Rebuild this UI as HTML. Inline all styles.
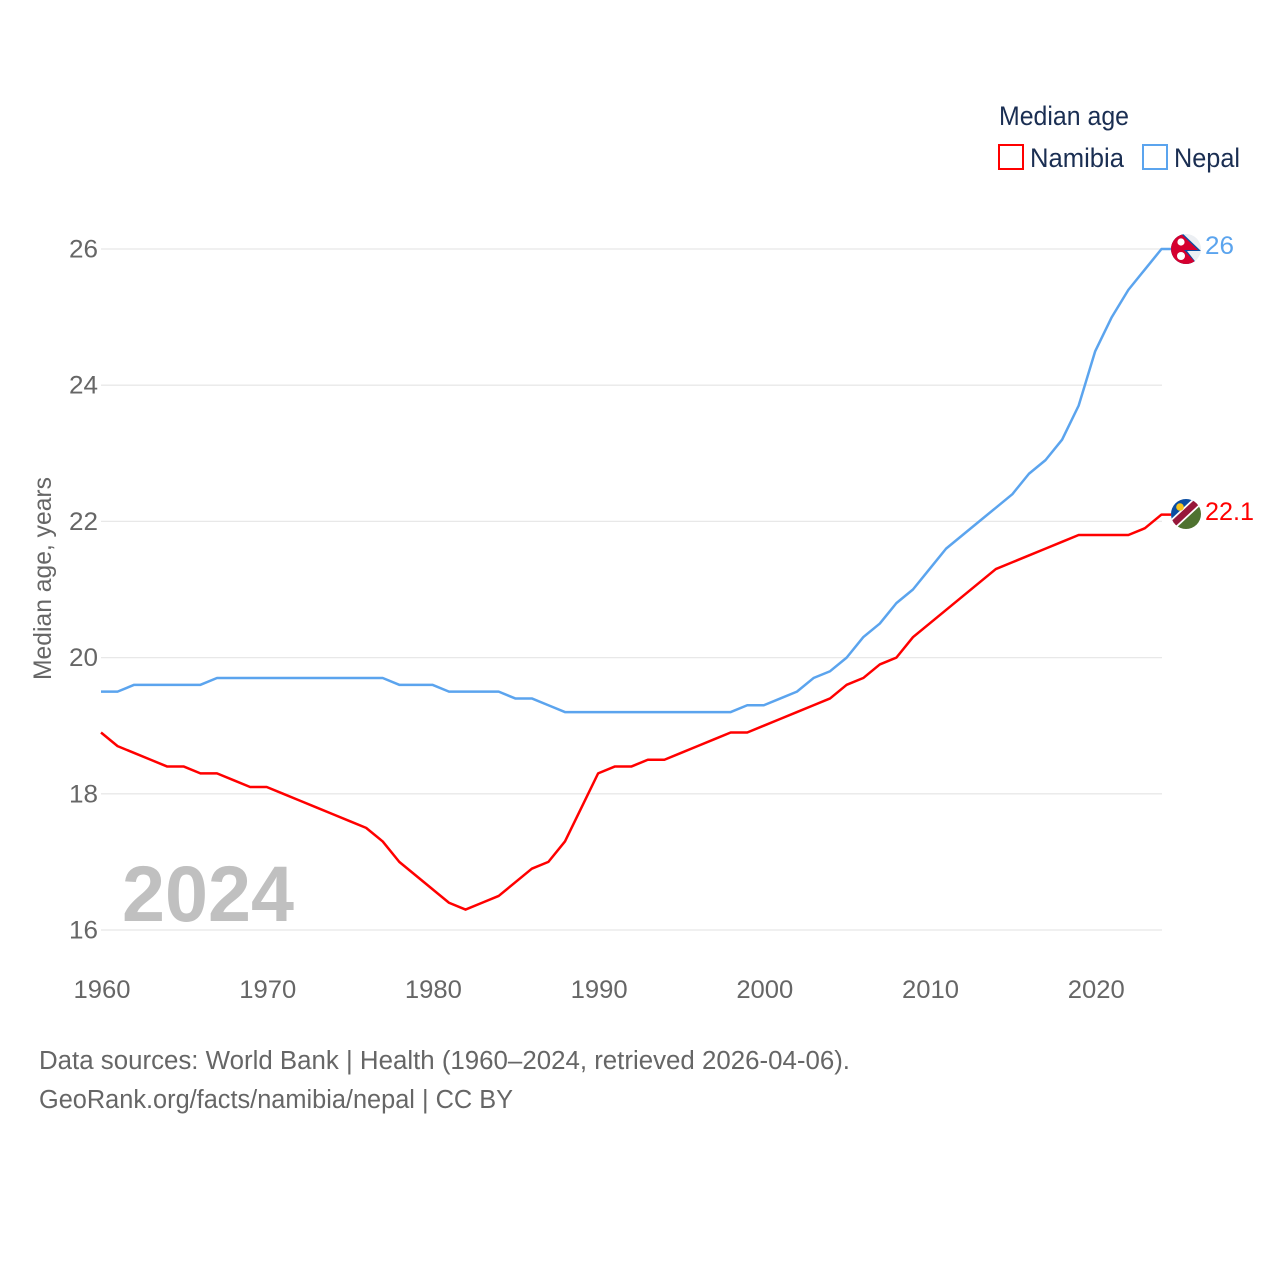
<!DOCTYPE html>
<html lang="en">
<head>
<meta charset="utf-8">
<title>Median age: Namibia and Nepal</title>
<style>
html,body{margin:0;padding:0;background:#fff;width:1280px;height:1280px;overflow:hidden}
svg{display:block}
text{font-family:"Liberation Sans",sans-serif}
</style>
</head>
<body>
<svg id="chart" xmlns="http://www.w3.org/2000/svg" width="1280" height="1280" viewBox="0 0 1280 1280">
  <rect width="1280" height="1280" fill="#fff"/>

  <g id="grid"></g>
  <g id="yticks"></g>
  <g id="xticks"></g>

  <text x="122" y="921" font-size="79" font-weight="700" fill="#c0c0c0" textLength="172" lengthAdjust="spacingAndGlyphs">2024</text>

  <text transform="translate(51,680) rotate(-90)" font-size="25" fill="#666" textLength="203" lengthAdjust="spacingAndGlyphs">Median age, years</text>

  <g id="series"></g>

  <defs>
    <clipPath id="clip-nepal"><circle cx="1186" cy="249" r="15"/></clipPath>
    <clipPath id="clip-namibia"><circle cx="1186" cy="514" r="15"/></clipPath>
  </defs>

  <g id="flag-nepal" clip-path="url(#clip-nepal)">
    <rect x="1171" y="234" width="30" height="30" fill="#eceff3"/>
    <polygon points="1171,230 1179,230 1201,251 1187,251 1198,265 1171,265" fill="#0b4ea2"/>
    <polygon points="1171,230 1177,230 1198,250 1184,250 1195,262 1195,265 1171,265" fill="#d5002f"/>
    <circle cx="1181" cy="242" r="3.6" fill="#fff"/>
    <circle cx="1181" cy="256" r="4" fill="#fff"/>
  </g>

  <g id="flag-namibia" clip-path="url(#clip-namibia)">
    <rect x="1171" y="499" width="30" height="30" fill="#fff"/>
    <polygon points="1171,499 1197,499 1171,526" fill="#0b4ea2"/>
    <polygon points="1201,503 1201,529 1175,529" fill="#4f7230"/>
    <line x1="1171" y1="526" x2="1200" y2="499" stroke="#fff" stroke-width="10"/>
    <line x1="1171" y1="526" x2="1200" y2="499" stroke="#97183a" stroke-width="6.5"/>
    <circle cx="1180" cy="507" r="3.8" fill="#f6c51c"/>
  </g>

  <text x="1205" y="254" font-size="25" fill="#5ba4ee" textLength="29" lengthAdjust="spacingAndGlyphs">26</text>
  <text x="1205" y="520" font-size="25" fill="#ff0000" textLength="49" lengthAdjust="spacingAndGlyphs">22.1</text>

  <g>
    <text x="999" y="125" font-size="26.5" fill="#1a2e52" textLength="130" lengthAdjust="spacingAndGlyphs">Median age</text>
    <rect x="999" y="145" width="24" height="24" fill="none" stroke="#ff0000" stroke-width="2"/>
    <text x="1030" y="167" font-size="26.5" fill="#1a2e52" textLength="94" lengthAdjust="spacingAndGlyphs">Namibia</text>
    <rect x="1143" y="145" width="24" height="24" fill="none" stroke="#5ba4ee" stroke-width="2"/>
    <text x="1174" y="167" font-size="26.5" fill="#1a2e52" textLength="66" lengthAdjust="spacingAndGlyphs">Nepal</text>
  </g>

  <text x="39" y="1069" font-size="25.5" fill="#666" textLength="811" lengthAdjust="spacingAndGlyphs">Data sources: World Bank | Health (1960–2024, retrieved 2026-04-06).</text>
  <text x="39" y="1108" font-size="25.5" fill="#666" textLength="474" lengthAdjust="spacingAndGlyphs">GeoRank.org/facts/namibia/nepal | CC BY</text>
</svg>

<script>
const years = [1960,1961,1962,1963,1964,1965,1966,1967,1968,1969,1970,1971,1972,1973,1974,1975,1976,1977,1978,1979,1980,1981,1982,1983,1984,1985,1986,1987,1988,1989,1990,1991,1992,1993,1994,1995,1996,1997,1998,1999,2000,2001,2002,2003,2004,2005,2006,2007,2008,2009,2010,2011,2012,2013,2014,2015,2016,2017,2018,2019,2020,2021,2022,2023,2024];
const namibiaValues = [18.9,18.7,18.6,18.5,18.4,18.4,18.3,18.3,18.2,18.1,18.1,18.0,17.9,17.8,17.7,17.6,17.5,17.3,17.0,16.8,16.6,16.4,16.3,16.4,16.5,16.7,16.9,17.0,17.3,17.8,18.3,18.4,18.4,18.5,18.5,18.6,18.7,18.8,18.9,18.9,19.0,19.1,19.2,19.3,19.4,19.6,19.7,19.9,20.0,20.3,20.5,20.7,20.9,21.1,21.3,21.4,21.5,21.6,21.7,21.8,21.8,21.8,21.8,21.9,22.1];
const nepalValues = [19.5,19.5,19.6,19.6,19.6,19.6,19.6,19.7,19.7,19.7,19.7,19.7,19.7,19.7,19.7,19.7,19.7,19.7,19.6,19.6,19.6,19.5,19.5,19.5,19.5,19.4,19.4,19.3,19.2,19.2,19.2,19.2,19.2,19.2,19.2,19.2,19.2,19.2,19.2,19.3,19.3,19.4,19.5,19.7,19.8,20.0,20.3,20.5,20.8,21.0,21.3,21.6,21.8,22.0,22.2,22.4,22.7,22.9,23.2,23.7,24.5,25.0,25.4,25.7,26.0];
const yTickValues = [16,18,20,22,24,26];
const xTickValues = [1960,1970,1980,1990,2000,2010,2020];

const SVG_NS = 'http://www.w3.org/2000/svg';
const xScale = function (year) { return 101 + (year - 1960) * (1161.5 - 101) / (2024 - 1960); };
const yScale = function (value) { return 930 - (value - 16) * (930 - 249) / (26 - 16); };

const gridGroup = document.getElementById('grid');
const yGroup = document.getElementById('yticks');
const xGroup = document.getElementById('xticks');
const seriesGroup = document.getElementById('series');

yTickValues.forEach(function (value) {
  const line = document.createElementNS(SVG_NS, 'line');
  
  
  line.setAttribute('x1', 101);
  line.setAttribute('x2', 1162);
  line.setAttribute('y1', yScale(value));
  line.setAttribute('y2', yScale(value));
  line.setAttribute('stroke', '#e8e8e8');
  line.setAttribute('stroke-width', 1.3);
  gridGroup.appendChild(line);

  const label = document.createElementNS(SVG_NS, 'text');
  
  
  label.setAttribute('x', 69);
  label.setAttribute('y', yScale(value) + 8.5);
  label.setAttribute('font-size', 25);
  label.setAttribute('fill', '#666');
  label.setAttribute('textLength', 29);
  label.setAttribute('lengthAdjust', 'spacingAndGlyphs');
  label.textContent = String(value);
  yGroup.appendChild(label);
});

xTickValues.forEach(function (year) {
  const label = document.createElementNS(SVG_NS, 'text');
  
  
  label.setAttribute('x', xScale(year) - 27.5);
  label.setAttribute('y', 998);
  label.setAttribute('font-size', 25);
  label.setAttribute('fill', '#666');
  label.setAttribute('textLength', 57);
  label.setAttribute('lengthAdjust', 'spacingAndGlyphs');
  label.textContent = String(year);
  xGroup.appendChild(label);
});

function drawSeries(values, color, seriesName) {
  let d = '';
  values.forEach(function (value, i) {
    d += (i === 0 ? 'M' : 'L') + xScale(years[i]).toFixed(2) + ' ' + yScale(value).toFixed(2);
  });
  d += 'L' + (xScale(years[years.length - 1]) + 10).toFixed(2) + ' ' + yScale(values[values.length - 1]).toFixed(2);
  const path = document.createElementNS(SVG_NS, 'path');
  
  
  path.setAttribute('d', d);
  path.setAttribute('fill', 'none');
  path.setAttribute('stroke', color);
  path.setAttribute('stroke-width', 2.5);
  path.setAttribute('stroke-linejoin', 'round');
  seriesGroup.appendChild(path);
}

drawSeries(namibiaValues, '#ff0000', 'namibia-line');
drawSeries(nepalValues, '#5ba4ee', 'nepal-line');
</script>
</body>
</html>
